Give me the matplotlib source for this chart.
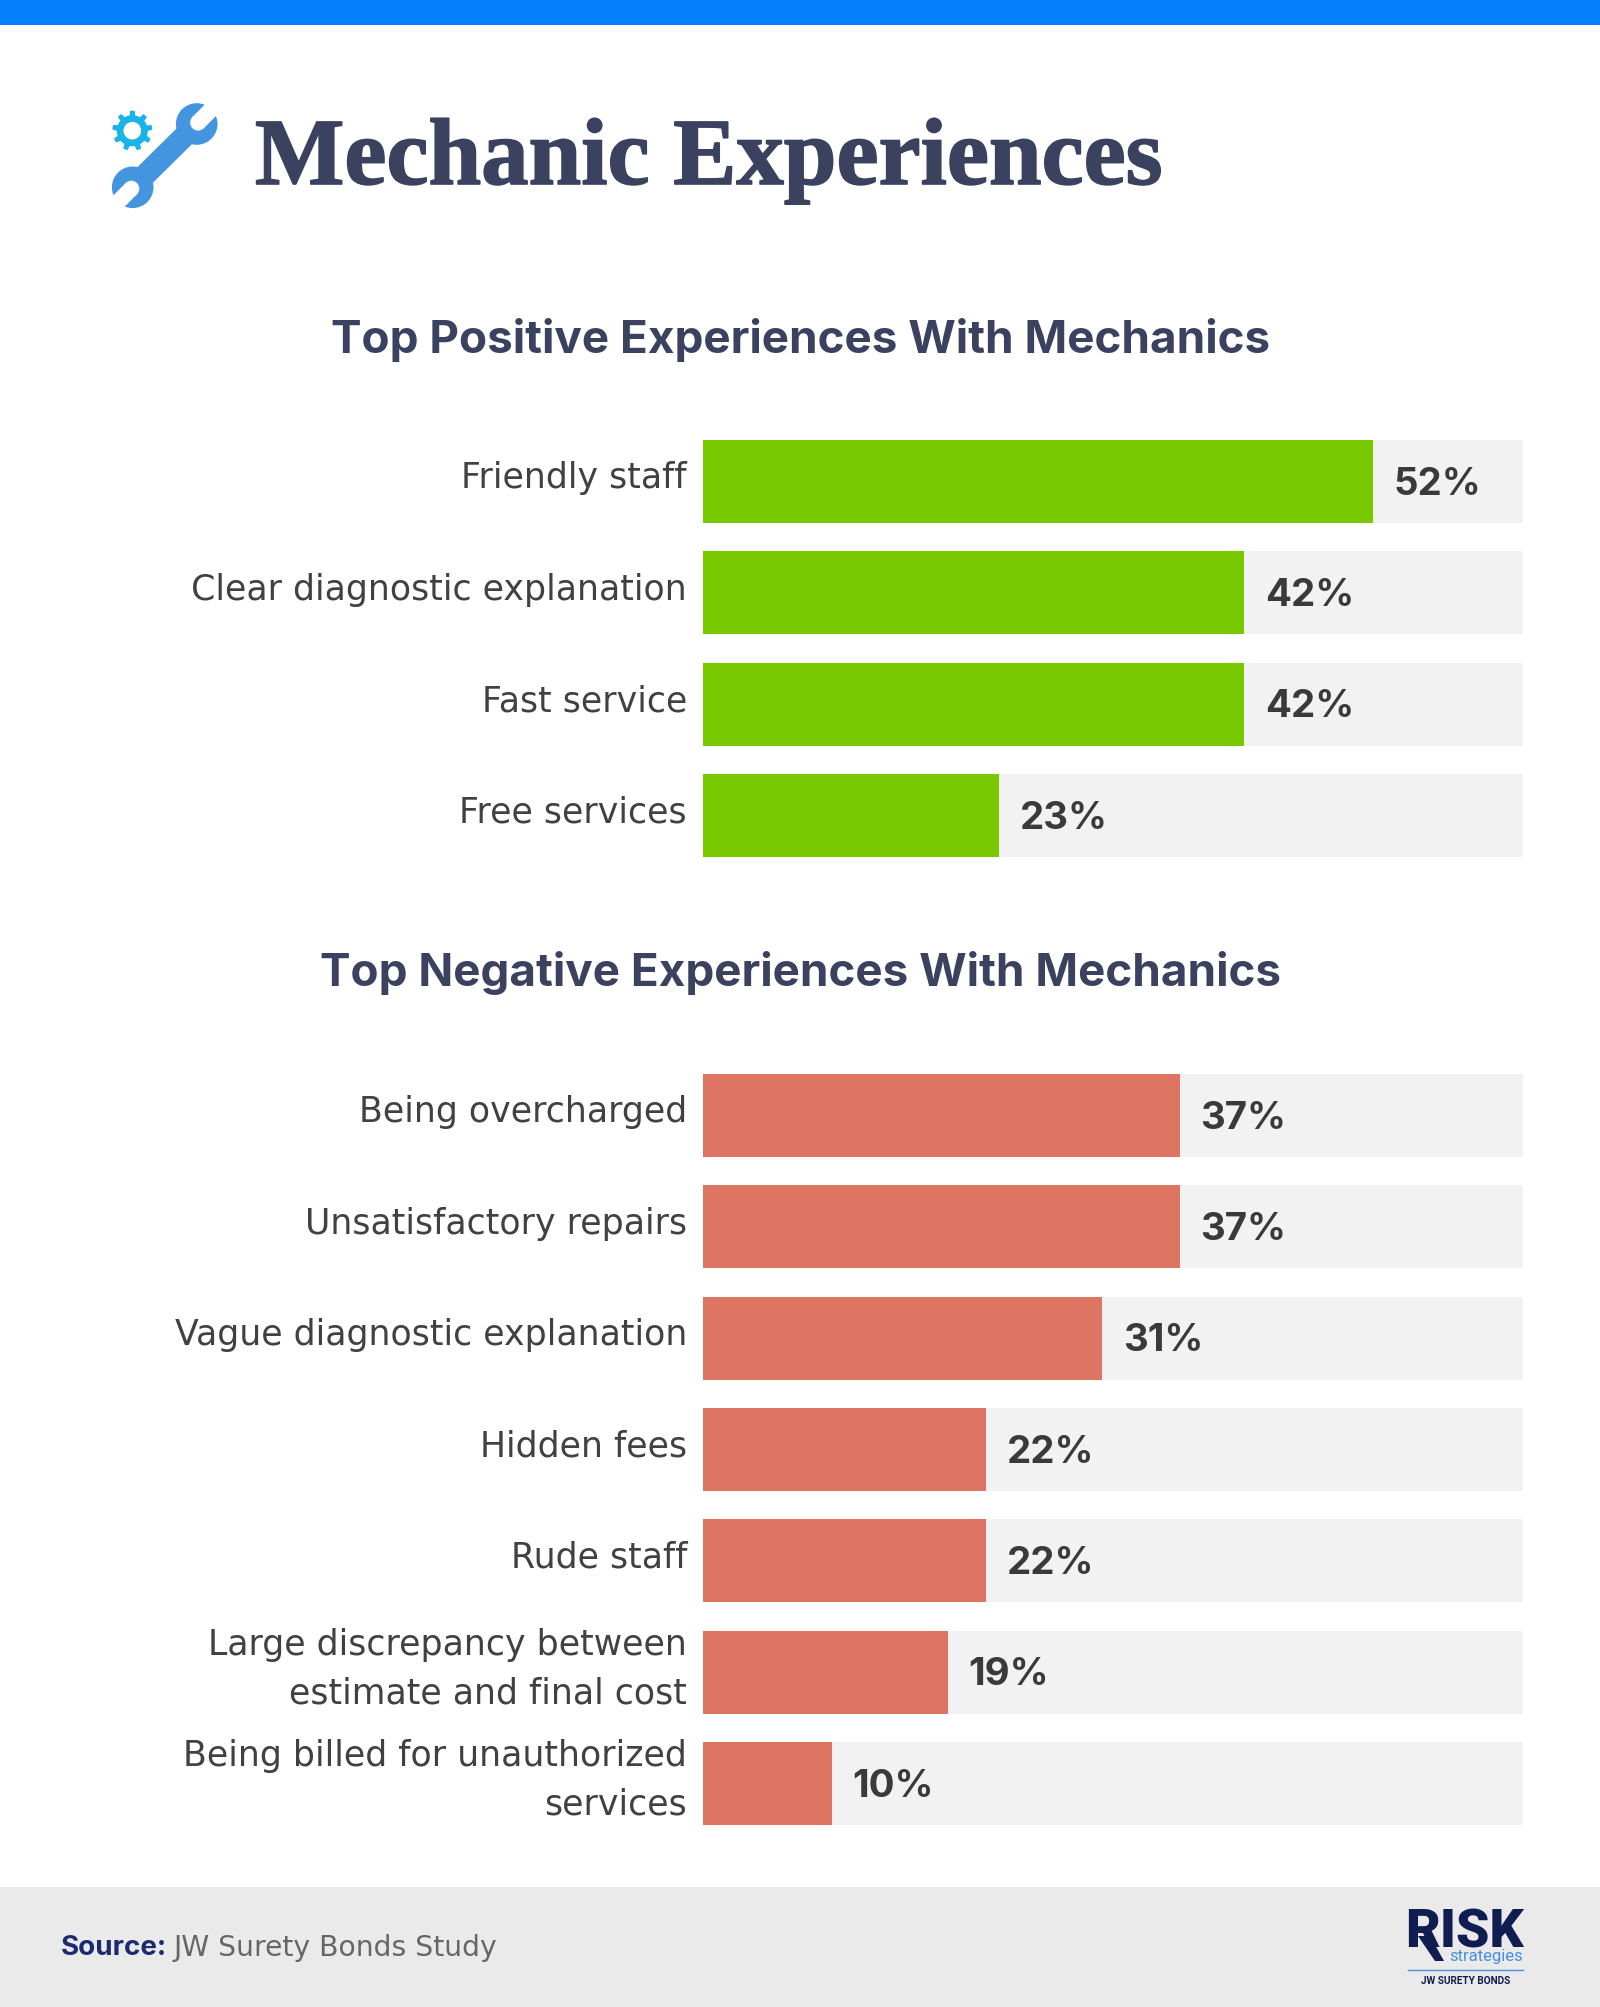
import numpy as np
import matplotlib
matplotlib.use('Agg')
import matplotlib.pyplot as plt
import matplotlib.patheffects as pe
from matplotlib.patches import Circle, Polygon, Rectangle

pos_labels = ['Friendly staff', 'Clear diagnostic explanation', 'Fast service', 'Free services']
pos_values = [52, 42, 42, 23]
neg_labels = ['Being overcharged', 'Unsatisfactory repairs', 'Vague diagnostic explanation',
              'Hidden fees', 'Rude staff', 'Large discrepancy between\nestimate and final cost',
              'Being billed for unauthorized\nservices']
neg_values = [37, 37, 31, 22, 22, 19, 10]

W, H = 1600, 2008
DARK = '#3b4260'
GREEN = '#78c900'
RED = '#de7562'
TRACK = '#f2f2f2'
NAVY = '#101d50'
X_MAX = 63.66
SANS = ['Inter', 'DejaVu Sans']

fig = plt.figure(figsize=(W / 100, H / 100), dpi=100, facecolor='white')

# whole page in pixel coordinates, for the header, icon and footer
bg = fig.add_axes([0, 0, 1, 1])
bg.set_xlim(0, W)
bg.set_ylim(H, 0)
bg.axis('off')

bg.add_patch(Rectangle((0, 0), W, 26, color='#0582fb', lw=0))
bg.add_patch(Rectangle((0, 1888), W, 120, color='#eaeaea', lw=0))


def draw_wrench():
    blue = '#4495e0'
    d = np.array([1, -1]) / np.sqrt(2)
    n = np.array([1, 1]) / np.sqrt(2)
    c1 = np.array([196.7, 125.0])
    c2 = np.array([132.7, 188.3])
    bg.add_patch(Polygon([c1 + n * 11, c1 - n * 11, c2 - n * 11, c2 + n * 11], color=blue, lw=0))
    for c, s in ((c1, 1), (c2, -1)):
        bg.add_patch(Circle(c, 20.8, color=blue, lw=0))
        tip = c + s * d * 2
        bg.add_patch(Polygon([tip + n * 8, tip - n * 8, tip - n * 8 + s * d * 30, tip + n * 8 + s * d * 30],
                             color='white', lw=0))
        bg.add_patch(Circle(tip, 8, color='white', lw=0))


def draw_gear():
    cx, cy = 132.3, 131.7
    ang = np.linspace(0, 2 * np.pi, 181)[:-1]
    r = 15.5 + 4.5 * np.clip(2.2 * np.cos(9 * (ang + 0.17)), 0, 1)
    bg.add_patch(Polygon(np.c_[cx + r * np.cos(ang), cy + r * np.sin(ang)], color='#1ab3e8', lw=0))
    bg.add_patch(Circle((cx, cy), 8.8, color='white', lw=0))


draw_wrench()
draw_gear()

title = bg.text(255, 185, 'Mechanic Experiences', family='Liberation Serif', weight='bold', size=68.2,
                color=DARK, va='baseline', ha='left')
title.set_path_effects([pe.withStroke(linewidth=1.2, foreground=DARK)])
bg.text(800.5, 340, 'Top Positive Experiences With Mechanics', family=SANS, weight='bold', size=33,
        color=DARK, va='center', ha='center')
bg.text(800.5, 973, 'Top Negative Experiences With Mechanics', family=SANS, weight='bold', size=33,
        color=DARK, va='center', ha='center')


def draw_chart(labels, values, color, top, bottom):
    ax = fig.add_axes([703 / W, 1 - bottom / H, 820 / W, (bottom - top) / H])
    ax.patch.set_alpha(0)
    n = len(values)
    h = 0.745
    y = np.arange(n)
    ax.barh(y, [X_MAX] * n, height=h, color=TRACK)
    ax.barh(y, values, height=h, color=color)
    ax.set_xlim(0, X_MAX)
    ax.set_ylim(n - 1 + h / 2, -h / 2)
    ax.axis('off')
    for i in range(n):
        ax.annotate(labels[i], (0, i), xytext=(-11.5, 3), textcoords='offset points',
                    ha='right', va='center', family='DejaVu Sans', size=25, color='#414141',
                    linespacing=1.52, multialignment='right')
        ax.annotate('%d%%' % values[i], (values[i], i), xytext=(15, -1.5), textcoords='offset points',
                    ha='left', va='center', family=SANS, weight='bold', size=27.7, color='#3a3a3a')


draw_chart(pos_labels, pos_values, GREEN, 441, 858)
draw_chart(neg_labels, neg_values, RED, 1075, 1826)

bg.text(61, 1948, 'Source:', family=SANS, weight='bold', size=20, color='#1c2a6e', va='center')
bg.text(174, 1948, 'JW Surety Bonds Study', family='DejaVu Sans', size=20.3, color='#666666', va='center')

# logo
bg.text(1405, 1948, 'RISK', family='Roboto', weight=900, size=38.5, color=NAVY, va='baseline')
bg.add_patch(Polygon([(1418, 1937), (1430, 1937), (1444, 1962), (1435, 1962)], color=NAVY, lw=0))
bg.text(1523, 1961, 'strategies', family='Roboto', size=12, color='#4a8fdc', va='baseline', ha='right')
bg.plot([1408, 1523], [1971, 1971], color='#4a8fdc', lw=1)
bg.text(1466, 1981, 'JW SURETY BONDS', family='Roboto', weight='bold', size=7.2, color=NAVY,
        va='center', ha='center')

fig.savefig('out.png', dpi=100, facecolor='white')
